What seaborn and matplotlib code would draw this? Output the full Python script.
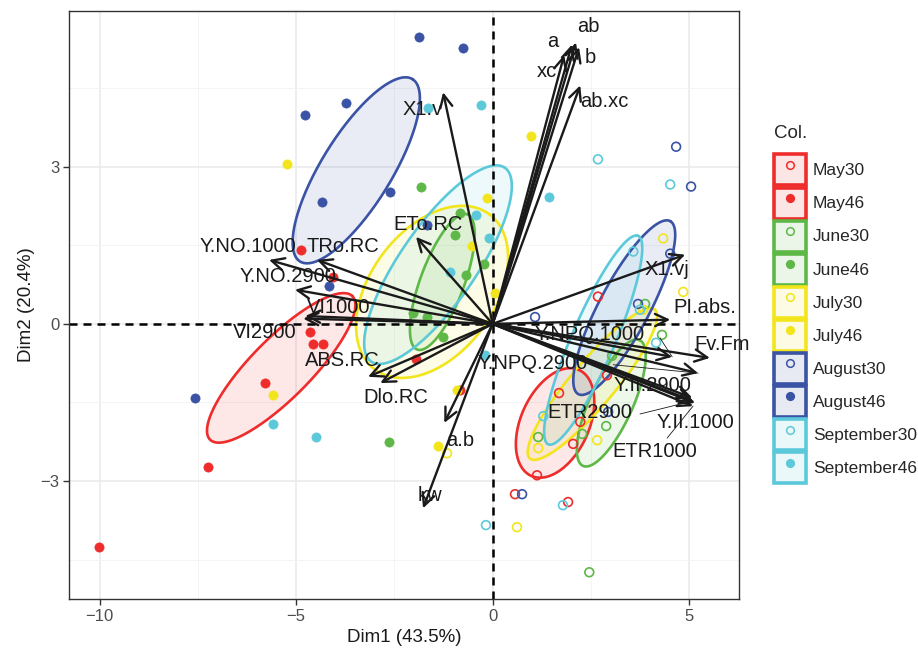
import numpy as np
import pandas as pd
import matplotlib
matplotlib.use("Agg")
import matplotlib.pyplot as plt
import seaborn as sns
from matplotlib.patches import Rectangle
from matplotlib.lines import Line2D
from matplotlib.legend_handler import HandlerTuple

# ---------------- data ----------------
groups = ["May30", "May46", "June30", "June46", "July30", "July46",
          "August30", "August46", "September30", "September46"]
group_colors = ["#EE2C2C", "#EE2C2C", "#5DB847", "#5DB847", "#F3E51C", "#F3E51C",
                "#3A53A4", "#3A53A4", "#5CC9DB", "#5CC9DB"]
group_filled = [False, True, False, True, False, True, False, True, False, True]

may30_x = [2.68, 1.69, 2.23, 2.05, 1.13, 0.57, 1.92, 2.91]
may30_y = [0.52, -1.32, -1.87, -2.29, -2.89, -3.25, -3.40, -0.98]
may46_x = [-4.87, -4.64, -4.57, -4.31, -5.79, -7.24, -10.01, -1.95, -0.83, -4.06]
may46_y = [1.41, -0.15, -0.38, -0.38, -1.13, -2.73, -4.26, -0.67, -1.26, 0.90]
june30_x = [3.88, 4.31, 3.04, 2.89, 2.28, 1.16, 2.46]
june30_y = [0.38, -0.21, -0.61, -1.95, -2.10, -2.16, -4.74]
june46_x = [-1.82, -0.83, -0.95, -0.67, -0.22, -2.02, -1.67, -1.26, -2.63]
june46_y = [2.62, 2.12, 1.70, 0.94, 1.15, 0.21, 0.13, -0.25, -2.26]
july30_x = [4.34, 4.85, 1.16, 2.66, 0.62, -1.16, 3.83]
july30_y = [1.63, 0.61, -2.37, -2.22, -3.88, -2.47, 0.27]
july46_x = [-5.23, 0.98, -0.14, -0.52, 0.06, -5.59, -1.39, -0.90]
july46_y = [3.06, 3.59, 2.41, 1.49, 0.59, -1.36, -2.33, -1.26]
august30_x = [4.67, 5.05, 4.52, 1.08, 3.70, 0.75, 2.94]
august30_y = [3.38, 2.62, 1.34, 0.13, 0.38, -3.25, -1.68]
august46_x = [-1.87, -0.75, -3.73, -4.77, -4.34, -2.61, -4.16, -7.57, -1.67]
august46_y = [5.47, 5.26, 4.21, 3.98, 2.33, 2.52, 0.73, -1.41, 1.89]
september30_x = [2.68, 4.52, 3.58, 4.16, 1.29, 1.79, -0.17, 3.75]
september30_y = [3.14, 2.66, 1.38, -0.36, -1.76, -3.46, -3.84, 0.27]
september46_x = [-1.64, -0.29, 1.44, -0.42, -0.09, -1.08, -5.59, -4.49, -0.19]
september46_y = [4.11, 4.17, 2.43, 2.07, 1.63, 0.99, -1.91, -2.16, -0.59]

group_x = [may30_x, may46_x, june30_x, june46_x, july30_x, july46_x,
           august30_x, august46_x, september30_x, september46_x]
group_y = [may30_y, may46_y, june30_y, june46_y, july30_y, july46_y,
           august30_y, august46_y, september30_y, september46_y]

# ellipses (centre, end of one semi-diameter, end of its conjugate), group order
ell_cx = [1.59, -5.38, 3.02, -1.28, 2.54, -1.54, 3.35, -3.47, 2.56, -1.39]
ell_cy = [-1.89, -0.84, -1.51, 0.80, -1.15, 0.61, 0.31, 2.93, -0.31, 1.13]
ell_ux = [2.20, -3.57, 3.74, -0.64, 4.13, -0.08, 4.52, -2.04, 3.70, 0.31]
ell_uy = [-0.88, 0.53, -0.31, 2.09, 0.27, 2.09, 1.96, 4.67, 1.68, 2.98]
ell_vx = [2.38, -4.84, 3.52, -0.76, 2.97, -0.27, 3.91, -4.23, 3.07, -0.59]
ell_vy = [-2.16, -1.24, -1.68, 0.65, -1.42, -0.10, 0.08, 3.28, -0.47, 0.72]

# variable arrows
var_names = ["a", "ab", "b", "xc", "ab.xc", "X1.v", "ETo.RC", "Y.NO.1000", "TRo.RC",
             "Y.NO.2900", "VI1000", "VI2900", "ABS.RC", "Dlo.RC", "a.b", "kw",
             "X1.vj", "PI.abs.", "Y.NPQ.1000", "Fv.Fm", "Y.NPQ.2900", "Y.II.2900",
             "ETR2900", "Y.II.1000", "ETR1000"]
var_x = [2.02, 2.12, 2.20, 1.82, 2.23, -1.26, -1.95, -5.69, -4.47,
         -5.03, -4.77, -4.82, -3.17, -2.86, -1.23, -1.77,
         4.90, 4.52, 4.57, 5.53, 5.23, 5.08, 5.10, 5.15, 5.10]
var_y = [5.33, 5.37, 5.28, 5.13, 4.55, 4.42, 1.66, 1.22, 1.22,
         0.65, 0.15, 0.10, -1.01, -1.13, -1.89, -3.52,
         1.32, 0.08, -0.63, -0.65, -0.94, -1.41, -1.47, -1.51, -1.57]
lab_x = [1.54, 2.43, 2.48, 1.39, 2.84, -1.77, -1.64, -6.22, -3.80,
         -5.20, -3.93, -5.79, -3.83, -2.46, -0.83, -1.59,
         4.44, 5.41, 2.48, 5.84, 1.01, 4.06, 2.48, 5.15, 4.13]
lab_y = [5.39, 5.68, 5.09, 4.82, 4.24, 4.09, 1.89, 1.47, 1.47,
         0.90, 0.31, -0.17, -0.69, -1.41, -2.22, -3.27,
         1.03, 0.31, -0.21, -0.40, -0.75, -1.17, -1.70, -1.89, -2.43]
# thin leader segments (label side start -> arrow tip)
lead_names = ["ETR2900", "ETR1000", "Y.NPQ.1000", "Y.NPQ.2900"]
lead_x0 = [3.75, 4.44, 4.26, 3.07]
lead_y0 = [-1.72, -2.18, -0.27, -0.78]

x_label = "Dim1 (43.5%)"
y_label = "Dim2 (20.4%)"
legend_title = "Col."

# ---------------- style ----------------
sns.set_theme(style="whitegrid")
plt.rcParams['font.family'] = ['Liberation Sans', 'DejaVu Sans']

fig = plt.figure(figsize=(9.18, 6.49), dpi=100)
ax = fig.add_axes([69 / 918, 1 - 599 / 649, (739 - 69) / 918, (599 - 11) / 649])
ax.set_facecolor("white")

# ellipses
t = np.linspace(0, 2 * np.pi, 300)
for i, g in enumerate(groups):
    cx, cy = ell_cx[i], ell_cy[i]
    ex = cx + (ell_ux[i] - cx) * np.cos(t) + (ell_vx[i] - cx) * np.sin(t)
    ey = cy + (ell_uy[i] - cy) * np.cos(t) + (ell_vy[i] - cy) * np.sin(t)
    ax.fill(ex, ey, color=group_colors[i], alpha=0.11, lw=0, zorder=2)
    ax.plot(ex, ey, color=group_colors[i], lw=1.9, zorder=3)

# points
rows = []
for i, g in enumerate(groups):
    for xv, yv in zip(group_x[i], group_y[i]):
        rows.append((xv, yv, g))
df = pd.DataFrame(rows, columns=["Dim1", "Dim2", "Col."])
for i, g in enumerate(groups):
    sub = df[df["Col."] == g]
    if group_filled[i]:
        sns.scatterplot(data=sub, x="Dim1", y="Dim2", ax=ax, color=group_colors[i],
                        s=44, edgecolor=group_colors[i], linewidth=0.5,
                        legend=False, zorder=4)
    else:
        sns.scatterplot(data=sub, x="Dim1", y="Dim2", ax=ax, s=40,
                        facecolors="none", edgecolor=group_colors[i],
                        linewidth=1.2, legend=False, zorder=4)

# reference lines
ax.axhline(0, color="black", lw=1.8, ls=(0, (3.2, 2.4)), zorder=3.5)
ax.axvline(0, color="black", lw=1.8, ls=(0, (3.2, 2.4)), zorder=3.5)

# arrows
for xv, yv in zip(var_x, var_y):
    ax.annotate("", xy=(xv, yv), xytext=(0, 0), xycoords="data", textcoords="data",
                arrowprops=dict(arrowstyle="->,head_length=0.45,head_width=0.22",
                                lw=1.7, color="#1a1a1a", mutation_scale=20,
                                shrinkA=0, shrinkB=0),
                zorder=5)

# leader segments
for n, x0, y0 in zip(lead_names, lead_x0, lead_y0):
    j = var_names.index(n)
    ax.plot([x0, var_x[j]], [y0, var_y[j]], color="#1a1a1a", lw=0.6, zorder=5)

# labels
for n, lx, ly in zip(var_names, lab_x, lab_y):
    ax.text(lx, ly, n, fontsize=14.5, color="#1a1a1a", ha="center", va="center",
            zorder=6)

# axes
ax.set_xlim(-10.78, 6.27)
ax.set_ylim(-5.25, 5.97)
ax.set_xticks([-10, -5, 0, 5])
ax.set_xticklabels(["\u221210", "\u22125", "0", "5"])
ax.set_yticks([-3, 0, 3])
ax.set_yticklabels(["\u22123", "0", "3"])
ax.set_xticks([-7.5, -2.5, 2.5], minor=True)
ax.set_yticks([-4.5, -1.5, 1.5, 4.5], minor=True)
ax.grid(which="major", color="#EBEBEB", lw=1.2)
ax.grid(which="minor", color="#F2F2F2", lw=0.6)
ax.tick_params(which="major", length=4, width=1, color="#333333", labelsize=12,
               labelcolor="#4D4D4D", bottom=True, left=True, pad=3)
ax.tick_params(which="minor", length=0)
for sp in ax.spines.values():
    sp.set_color("#333333")
    sp.set_linewidth(1.0)
    sp.set_zorder(7)
ax.set_xlabel(x_label, fontsize=13.5, color="#1a1a1a", labelpad=4)
ax.set_ylabel(y_label, fontsize=13.5, color="#1a1a1a", labelpad=4)

# legend
handles = []
for i, g in enumerate(groups):
    c = group_colors[i]
    box = Rectangle((0, 0), 1, 1, facecolor=matplotlib.colors.to_rgba(c, 0.12),
                    edgecolor=c, linewidth=2.6)
    mk = Line2D([], [], ls="", marker="o", markersize=5.5,
                markerfacecolor=c if group_filled[i] else "none",
                markeredgecolor=c, markeredgewidth=1.1)
    handles.append((box, mk))
leg = fig.legend(handles, groups, handler_map={tuple: HandlerTuple(ndivide=1, pad=0)},
                 loc="upper left", bbox_to_anchor=(767 / 918, 1 - 118 / 649),
                 frameon=False, fontsize=12.5, title=legend_title, title_fontsize=13.5,
                 handlelength=1.84, handleheight=2.37, labelspacing=0.12,
                 handletextpad=0.4, borderaxespad=0, alignment="left")
leg._legend_box.sep = 9

fig.savefig("out.png", dpi=100, facecolor="white")
